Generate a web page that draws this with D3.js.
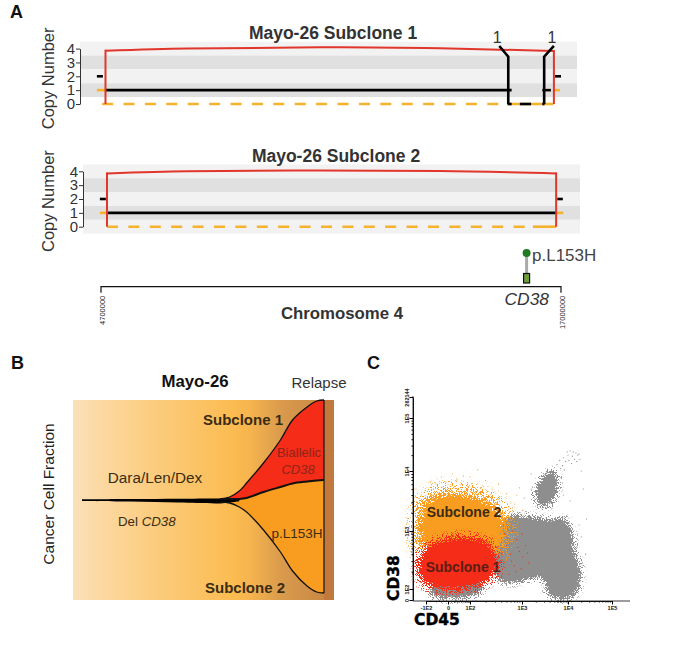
<!DOCTYPE html>
<html>
<head>
<meta charset="utf-8">
<script src="https://cdn.jsdelivr.net/npm/d3@7"></script>
<style>
  html, body { margin: 0; padding: 0; background: #fff; }
  text { font-family: "Liberation Sans", Arial, sans-serif; }
</style>
</head>
<body>
<div id="chart"></div>
<script>
// panel A: copy number along chromosome 4
const copyTicks = [0, 1, 2, 3, 4];
const bandLevels1 = [4, 3, 2, 1];
const bandLevels2 = [4, 3, 2, 1, 0];
const chromEnds = [4700000, 17000000];

const redPos1 = [4820000, 7000000, 11090000, 13760000, 16810000];
const redCn1 = [3.85, 4.01, 4.09, 4.02, 3.83];
const redPos2 = [4860000, 7000000, 10500000, 13760000, 16870000];
const redCn2 = [3.85, 4.0, 4.06, 4.02, 3.85];

// [start, end, copy number]
const blackSegs1 = [
  [4590000, 4750000, 2], [4820000, 15680000, 1], [15570000, 15680000, 0],
  [15900000, 16200000, 0], [16500000, 16560000, 0], [16500000, 16730000, 1],
  [16840000, 17000000, 2]
];
const blackSegs2 = [
  [4670000, 4830000, 2], [4860000, 16870000, 1], [16900000, 17050000, 2]
];
const orangeStubs1 = [[4590000, 4810000, 1], [16790000, 16970000, 1], [15600000, 16800000, 0]];
const orangeStubs2 = [[4670000, 4860000, 1], [16860000, 17060000, 1], [16250000, 16870000, 0]];
const dashEnds1 = [4730000, 15600000];
const dashEnds2 = [4860000, 16250000];

// copy number change markers on the first panel
const breakPos = [15590000, 16550000];
const breakTip = [15350000, 16810000];
const breakKneeCn = 3.42;
const breakTipCn = 4.19;
const breakLabels = ["1", "1"];

const mutationPos = 16080000;
const mutationLabel = "p.L153H";

// panel B: fish plot, time in % of the course, fractions around the founder line
const fishTime = [57, 61, 65, 68, 75, 82, 87, 93, 97, 100];
const clone1Top = [0.01, 0.03, 0.09, 0.17, 0.37, 0.6, 0.8, 0.93, 0.99, 1];
const cloneDivider = [0.01, 0.01, 0.01, 0.02, 0.08, 0.13, 0.165, 0.185, 0.195, 0.2];
const clone2Bottom = [-0.02, -0.03, -0.07, -0.12, -0.3, -0.52, -0.71, -0.86, -0.92, -0.93];
const founderTime = [0, 20, 40, 57, 61, 65];
const founderTop = [0.007, 0.01, 0.013, 0.016, 0.014, 0.01];
const founderBottom = [-0.01, -0.016, -0.026, -0.034, -0.025, -0.012];

// panel C: flow cytometry, biexponential units (1 = 1E2, 2 = 1E3 ...)
const flowXTicks = [-1, 0, 1, 2, 3, 4];
const flowXLabels = ["-1E2", "0", "1E2", "1E3", "1E4", "1E5"];
const flowYTicks = [0, 1, 2, 3, 4, 4.4];
const flowYLabels = ["0", "1E2", "1E3", "1E4", "1E5", "262144"];
const minorOffsets = [0.3, 0.48, 0.6, 0.7, 0.78, 0.85, 0.9, 0.95];

const grayLow = [[-0.82, 0.8], [-0.5, 0.3], [0.2, 0.15], [0.8, 0.3], [1.19, 0.8], [1.2, 1.3], [0, 1.4]];
const grayMain = [[1.52, 2.02], [1.67, 2.22], [1.96, 2.25], [2.5, 2.18], [2.93, 2.18], [3.09, 1.93],
  [3.14, 1.59], [3.23, 1.47], [3.27, 1.24], [3.2, 0.91], [3.05, 0.27], [2.78, 0.18], [2.57, 0.73], [2.48, 1.19],
  [2.17, 1.19], [1.77, 1.12], [1.52, 1.19], [1.38, 1.5]];
const grayUpper = [[2.3, 2.6], [2.39, 2.8], [2.57, 2.98], [2.72, 2.97], [2.76, 2.77], [2.67, 2.52], [2.5, 2.42], [2.35, 2.45]];
const orangeCloud = [[-1.3, 2.02], [-1.2, 2.38], [-0.72, 2.58], [0, 2.64], [1, 2.6], [1.32, 2.5],
  [1.6, 2.28], [1.68, 2.02], [1.38, 1.5], [-0.36, 1.5], [-1.15, 1.67]];
const redCloud = [[-1.32, 1.33], [-1.12, 1.63], [-0.55, 1.8], [0.55, 1.88], [1.25, 1.83], [1.46, 1.64],
  [1.52, 1.38], [1.34, 1.16], [0.77, 1.02], [-0.55, 1.04], [-1.12, 1.12]];

const grayStrays = [[2.76, 3.12], [2.82, 3.2], [2.9, 3.25], [2.95, 3.18], [3, 3.3], [3.05, 3.38], [3.1, 3.28],
  [3.12, 3.36], [3.18, 3.34], [3.22, 3.3], [3.27, 3.22], [3.25, 3.32], [3.02, 3.2], [2.98, 3.36], [2.88, 3.1],
  [2.84, 3.05], [3.15, 3.22], [3.08, 3.14], [3.2, 3.18], [2.92, 3.02], [3.3, 3.0], [3.35, 2.7], [3.4, 1.6],
  [3.42, 2.2], [2.2, 2.7], [2.05, 2.55], [2.2, 2.95], [2.9, 2.6], [3.05, 2.5], [3.25, 2.1], [3.3, 1.9]];
const redStrays = [[1.62, 1.5], [1.7, 1.75], [1.78, 1.6], [1.85, 1.4], [1.9, 1.85], [1.95, 1.65], [2.02, 1.55],
  [2.08, 1.75], [1.75, 1.25], [1.66, 1.95], [1.82, 2.0], [2.15, 1.45], [1.88, 1.3], [1.72, 1.88], [2.0, 1.95],
  [1.6, 1.2], [1.98, 1.35], [2.12, 1.62], [1.8, 1.48], [1.92, 1.72]];
const orangeStrays = [[1.85, 2.45], [1.9, 2.6], [1.95, 2.72], [1.7, 2.62], [1.55, 2.78], [1.3, 2.84], [1, 2.9],
  [0.7, 2.92], [0.2, 2.95], [-0.3, 2.9], [-0.8, 2.82], [1.15, 3.02], [1.75, 2.4], [2.02, 2.35], [-1.5, 2.7],
  [0.4, 2.85], [-0.1, 2.82], [0.9, 2.8], [-0.55, 2.78], [1.2, 2.72], [-1.2, 2.6], [-1.45, 2.35], [0.6, 2.78]];

const W = 680, H = 645;
const svg = d3.select("#chart").append("svg").attr("width", W).attr("height", H);
const defs = svg.append("defs");

const GRAY = "#8e8e8e", ORANGE = "#f99d20", RED = "#f42c18", AMBER = "#f6b12d";

// panel letters
[["A", 10, 18], ["B", 11, 369], ["C", 367, 369]].forEach(d => {
  svg.append("text").attr("x", d[1]).attr("y", d[2])
    .style("font-size", "18px").style("font-weight", "bold").attr("fill", "#111").text(d[0]);
});

/* ---------- panel A ---------- */
const xChrom = d3.scaleLinear().domain(chromEnds).range([101, 561]);

function copyPanel(cfg) {
  const g = svg.append("g");
  const yCopy = d3.scaleLinear().domain([0, 4]).range([cfg.y0, cfg.y0 - 55.4]);
  const bandH = yCopy(0) - yCopy(1);

  g.selectAll("rect.band").data(cfg.bands).join("rect")
    .attr("class", "band")
    .attr("x", cfg.left).attr("width", cfg.right - cfg.left)
    .attr("y", d => yCopy(d) - bandH / 2).attr("height", bandH)
    .attr("fill", d => d % 2 == 0 ? "#f2f2f2" : "#e0e0e0");

  const axis = g.append("g").attr("transform", `translate(${cfg.left},0)`)
    .call(d3.axisLeft(yCopy).tickValues(copyTicks).tickFormat(d3.format("d")).tickSize(4).tickSizeOuter(0).tickPadding(1));
  axis.selectAll("text").style("font-size", "15px").attr("fill", "#333");
  axis.selectAll("line,path").attr("stroke", "#333");

  g.append("text")
    .attr("transform", `translate(54,${cfg.y0 - 25.6}) rotate(-90)`)
    .attr("text-anchor", "middle").style("font-size", "16.5px").attr("fill", "#333")
    .text("Copy Number");

  g.append("text").attr("x", cfg.titleX).attr("y", cfg.y0 - 65)
    .attr("text-anchor", "middle").style("font-size", "17.5px").style("font-weight", "bold")
    .attr("fill", "#333").text(cfg.title);

  // orange lines: the dashed one sits at zero copies
  g.selectAll("line.stub").data(cfg.stubs).join("line")
    .attr("class", "stub")
    .attr("x1", d => xChrom(d[0])).attr("x2", d => xChrom(d[1]))
    .attr("y1", d => yCopy(d[2])).attr("y2", d => yCopy(d[2]))
    .attr("stroke", AMBER).attr("stroke-width", 2.6);
  g.append("line")
    .attr("x1", xChrom(cfg.dash[0])).attr("x2", xChrom(cfg.dash[1]))
    .attr("y1", yCopy(0)).attr("y2", yCopy(0))
    .attr("stroke", AMBER).attr("stroke-width", 2.6).attr("stroke-dasharray", "11,10.4");

  g.selectAll("line.seg").data(cfg.segs).join("line")
    .attr("class", "seg")
    .attr("x1", d => xChrom(d[0])).attr("x2", d => xChrom(d[1]))
    .attr("y1", d => yCopy(d[2])).attr("y2", d => yCopy(d[2]))
    .attr("stroke", "#000").attr("stroke-width", 2.6);

  // red total copy line, dropping to zero at both ends
  const redLine = d3.line().x(d => xChrom(d[0])).y(d => yCopy(d[1])).curve(d3.curveMonotoneX);
  g.append("path").datum(d3.zip(cfg.redPos, cfg.redCn))
    .attr("d", redLine)
    .attr("fill", "none").attr("stroke", "#e0362c").attr("stroke-width", 2);
  [0, cfg.redPos.length - 1].forEach(i => {
    g.append("line")
      .attr("x1", xChrom(cfg.redPos[i])).attr("x2", xChrom(cfg.redPos[i]))
      .attr("y1", yCopy(cfg.redCn[i]) - 1).attr("y2", yCopy(0))
      .attr("stroke", "#e0362c").attr("stroke-width", 2);
  });

  return { g, yCopy };
}

const top1 = copyPanel({
  y0: 104, left: 80, right: 577, title: "Mayo-26 Subclone 1", titleX: 333,
  bands: bandLevels1, segs: blackSegs1, stubs: orangeStubs1, dash: dashEnds1,
  redPos: redPos1, redCn: redCn1
});
copyPanel({
  y0: 226.7, left: 83, right: 580, title: "Mayo-26 Subclone 2", titleX: 336,
  bands: bandLevels2, segs: blackSegs2, stubs: orangeStubs2, dash: dashEnds2,
  redPos: redPos2, redCn: redCn2
});

breakPos.forEach((pos, i) => {
  const y = top1.yCopy;
  top1.g.append("path")
    .attr("d", d3.line()([
      [xChrom(pos), y(0)], [xChrom(pos), y(breakKneeCn)], [xChrom(breakTip[i]), y(breakTipCn)]
    ]))
    .attr("fill", "none").attr("stroke", "#000").attr("stroke-width", 2.6);
  top1.g.append("text").attr("x", xChrom(breakTip[i]) - 2).attr("y", 43)
    .attr("text-anchor", "middle").style("font-size", "16px").attr("fill", "#333")
    .text(breakLabels[i]);
});

// gene track
const geneAxisY = 286.7;
svg.append("path")
  .attr("d", d3.line()([[xChrom(chromEnds[0]), geneAxisY + 6], [xChrom(chromEnds[0]), geneAxisY],
    [xChrom(chromEnds[1]), geneAxisY], [xChrom(chromEnds[1]), geneAxisY + 6]]))
  .attr("fill", "none").attr("stroke", "#111").attr("stroke-width", 1.2);
chromEnds.forEach(d => {
  svg.append("text")
    .attr("transform", `translate(${xChrom(d) + 3.5},${geneAxisY + 9}) rotate(-90)`)
    .attr("text-anchor", "end").style("font-size", "7.5px").attr("fill", "#222")
    .text(d);
});
const mx = xChrom(mutationPos);
svg.append("line").attr("x1", mx).attr("x2", mx).attr("y1", 253).attr("y2", 273)
  .attr("stroke", "#aaa").attr("stroke-width", 3);
svg.append("circle").attr("cx", mx).attr("cy", 253).attr("r", 4).attr("fill", "#1f7a22");
svg.append("rect").attr("x", mx - 3).attr("y", 273.5).attr("width", 6).attr("height", 9.5)
  .attr("fill", "#6f9e3a").attr("stroke", "#111").attr("stroke-width", 1.2);
svg.append("text").attr("x", 532).attr("y", 261).style("font-size", "17px").attr("fill", "#444")
  .text(mutationLabel);
svg.append("text").attr("x", 549).attr("y", 305).attr("text-anchor", "end")
  .style("font-size", "17.4px").style("font-style", "italic").attr("fill", "#333").text("CD38");
svg.append("text").attr("x", 342).attr("y", 319).attr("text-anchor", "middle")
  .style("font-size", "16.8px").style("font-weight", "bold").attr("fill", "#333").text("Chromosome 4");

/* ---------- panel B ---------- */
const xFish = d3.scaleLinear().domain([0, 100]).range([82, 324]);
const yFish = d3.scaleLinear().domain([-1, 1]).range([600, 400]);

const grad = defs.append("linearGradient").attr("id", "fishBg");
[[0, "#fbe0bb"], [0.1, "#fcd9a2"], [0.3, "#fccd80"], [0.62, "#fbbb50"], [0.68, "#f5b44e"],
 [0.8, "#d99a4c"], [0.97, "#c88844"]].forEach(d => {
  grad.append("stop").attr("offset", d[0]).attr("stop-color", d[1]);
});
svg.append("rect").attr("x", 73).attr("y", 400).attr("width", 261).attr("height", 200).attr("fill", "url(#fishBg)");
svg.append("rect").attr("x", 324).attr("y", 400).attr("width", 10).attr("height", 200).attr("fill", "#c1793d");

const fishCurve = d3.curveCatmullRom.alpha(0.5);
const fishArea = d3.area().x(d => xFish(d[0])).y0(d => yFish(d[1])).y1(d => yFish(d[2])).curve(fishCurve);
const fishLine = d3.line().x(d => xFish(d[0])).y(d => yFish(d[1])).curve(fishCurve);

svg.append("path").datum(d3.zip(fishTime, clone2Bottom, cloneDivider)).attr("d", fishArea).attr("fill", ORANGE);
svg.append("path").datum(d3.zip(fishTime, cloneDivider, clone1Top)).attr("d", fishArea).attr("fill", RED);
svg.append("path").datum(d3.zip(founderTime, founderBottom, founderTop)).attr("d", fishArea).attr("fill", "#000");
svg.append("path").datum(d3.zip(fishTime, clone1Top)).attr("d", fishLine)
  .attr("fill", "none").attr("stroke", "#111").attr("stroke-width", 1.3);
svg.append("path").datum(d3.zip(fishTime, cloneDivider)).attr("d", fishLine)
  .attr("fill", "none").attr("stroke", "#111").attr("stroke-width", 2);
svg.append("path").datum(d3.zip(fishTime, clone2Bottom)).attr("d", fishLine)
  .attr("fill", "none").attr("stroke", "#111").attr("stroke-width", 1.3);
svg.append("line").attr("x1", xFish(100)).attr("x2", xFish(100))
  .attr("y1", yFish(1)).attr("y2", yFish(-0.93)).attr("stroke", "#111").attr("stroke-width", 1.2);

function label(x, y, txt, size, opts) {
  opts = opts || {};
  return svg.append("text").attr("x", x).attr("y", y).attr("text-anchor", opts.anchor || "middle")
    .style("font-size", size + "px").style("font-weight", opts.bold ? "bold" : "normal")
    .style("font-style", opts.italic ? "italic" : "normal")
    .attr("fill", opts.fill || "#3b2c14").text(txt);
}
label(195, 387, "Mayo-26", 16.8, { bold: true, fill: "#111" });
label(319, 388, "Relapse", 15, { fill: "#333" });
label(243, 425, "Subclone 1", 15, { bold: true });
label(245, 593, "Subclone 2", 15, { bold: true });
label(155, 483, "Dara/Len/Dex", 15.3);
const delLabel = label(118, 526, "Del ", 13.3, { anchor: "start" });
delLabel.append("tspan").style("font-style", "italic").text("CD38");
label(299, 457, "Biallelic", 13, { fill: "#8f2418" });
label(298, 474, "CD38", 13, { italic: true, fill: "#8f2418" });
label(297, 538, "p.L153H", 13.5);
svg.append("text").attr("transform", "translate(54,494) rotate(-90)").attr("text-anchor", "middle")
  .style("font-size", "15.5px").attr("fill", "#222").text("Cancer Cell Fraction");

/* ---------- panel C ---------- */
const xFlow = d3.scaleLinear().domain(flowXTicks).range([426, 448, 470, 522, 568, 612]);
const yFlow = d3.scaleLinear().domain(flowYTicks).range([600, 589, 531, 471, 418, 397]);

// speckled edge so that the gated regions read as dense point clouds
function speckleFilter(id, colour, blur) {
  const f = defs.append("filter").attr("id", id)
    .attr("x", "-30%").attr("y", "-30%").attr("width", "160%").attr("height", "160%")
    .attr("color-interpolation-filters", "sRGB");
  f.append("feGaussianBlur").attr("in", "SourceAlpha").attr("stdDeviation", blur).attr("result", "soft");
  f.append("feTurbulence").attr("type", "fractalNoise").attr("baseFrequency", 1.2)
    .attr("numOctaves", 1).attr("seed", 4).attr("result", "noise");
  f.append("feColorMatrix").attr("in", "noise").attr("type", "matrix")
    .attr("values", "0 0 0 0 0  0 0 0 0 0  0 0 0 0 0  3.8 0 0 0 -1.4").attr("result", "grain");
  f.append("feComposite").attr("in", "soft").attr("in2", "grain").attr("operator", "arithmetic")
    .attr("k1", 0).attr("k2", 1.5).attr("k3", 1).attr("k4", -1).attr("result", "raw");
  const ct = f.append("feComponentTransfer").attr("in", "raw").attr("result", "mask");
  ct.append("feFuncA").attr("type", "linear").attr("slope", 9).attr("intercept", 0);
  f.append("feFlood").attr("flood-color", colour).attr("result", "ink");
  f.append("feComposite").attr("in", "ink").attr("in2", "mask").attr("operator", "in");
}
speckleFilter("speckGray", GRAY, 3.4);
speckleFilter("speckOrange", ORANGE, 8);
speckleFilter("speckRed", RED, 5);

const cloudLine = d3.line().x(d => xFlow(d[0])).y(d => yFlow(d[1])).curve(d3.curveCatmullRomClosed.alpha(0.5));

function cloud(pts, filterId) {
  svg.append("path").datum(pts).attr("d", cloudLine).attr("fill", "#000").attr("filter", `url(#${filterId})`);
}
function strays(pts, colour) {
  svg.append("g").selectAll("circle").data(pts).join("circle")
    .attr("cx", d => xFlow(d[0])).attr("cy", d => yFlow(d[1])).attr("r", 0.6).attr("fill", colour);
}

strays(grayStrays, GRAY);
cloud(grayLow, "speckGray");
cloud(grayMain, "speckGray");
cloud(grayUpper, "speckGray");
cloud(orangeCloud, "speckOrange");
cloud(redCloud, "speckRed");
strays(redStrays, RED);
strays(orangeStrays, ORANGE);

const minorX = flowXTicks.slice(1, -1).flatMap(t => minorOffsets.map(o => t + o));
const minorY = flowYTicks.slice(1, 4).flatMap(t => minorOffsets.map(o => t + o));

const axisX = svg.append("g").attr("transform", "translate(0,601)");
axisX.append("g").call(d3.axisBottom(xFlow).tickValues(minorX).tickSize(1.5).tickFormat("").tickSizeOuter(0));
axisX.append("line").attr("x1", 413).attr("x2", 630).attr("stroke", "#222").attr("stroke-width", 0.9);
const xMajor = axisX.append("g").call(d3.axisBottom(xFlow).tickValues(flowXTicks).tickSize(3.5).tickPadding(2)
  .tickFormat((d, i) => flowXLabels[i]));
xMajor.select(".domain").remove();
xMajor.selectAll("text").style("font-size", "5.5px").style("font-weight", "bold").attr("fill", "#222");

const axisY = svg.append("g").attr("transform", "translate(413,0)");
axisY.append("g").call(d3.axisLeft(yFlow).tickValues(minorY).tickSize(1.5).tickFormat("").tickSizeOuter(0));
axisY.append("line").attr("y1", 396).attr("y2", 601).attr("stroke", "#222").attr("stroke-width", 0.9);
const yMajor = axisY.append("g").call(d3.axisLeft(yFlow).tickValues(flowYTicks).tickSize(3.5).tickPadding(2)
  .tickFormat((d, i) => flowYLabels[i]));
yMajor.select(".domain").remove();
yMajor.selectAll("text")
  .attr("transform", "translate(-6,0) rotate(-90)")
  .attr("x", 0).attr("dy", "0.3em").attr("text-anchor", "middle")
  .style("font-size", "5.5px").style("font-weight", "bold").attr("fill", "#222");

svg.append("text").attr("x", 464).attr("y", 517).attr("text-anchor", "middle")
  .style("font-size", "14px").style("font-weight", "bold").attr("fill", "#3d2c12").text("Subclone 2");
svg.append("text").attr("x", 463).attr("y", 572).attr("text-anchor", "middle")
  .style("font-size", "14px").style("font-weight", "bold").attr("fill", "#5c1d14").text("Subclone 1");

svg.append("text").attr("transform", "translate(399,578) rotate(-90)").attr("text-anchor", "middle")
  .style("font-family", "'DejaVu Sans'").style("font-size", "15.5px").style("font-weight", "bold")
  .attr("fill", "#000").attr("stroke", "#000").attr("stroke-width", 0.4).text("CD38");
svg.append("text").attr("x", 437).attr("y", 625).attr("text-anchor", "middle")
  .style("font-family", "'DejaVu Sans'").style("font-size", "15.5px").style("font-weight", "bold")
  .attr("fill", "#000").attr("stroke", "#000").attr("stroke-width", 0.4).text("CD45");
</script>
</body>
</html>
